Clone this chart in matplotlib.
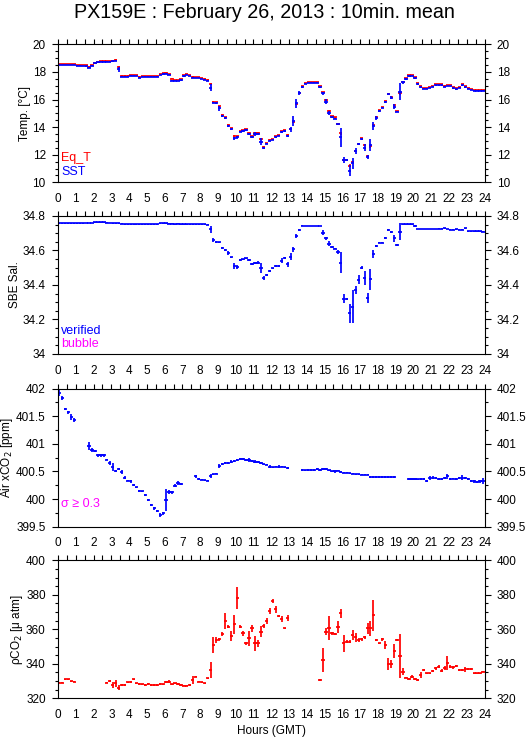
import numpy as np
import matplotlib
matplotlib.use("Agg")
import matplotlib.pyplot as plt
from matplotlib.ticker import MultipleLocator

plt.rcParams['font.family'] = ['Liberation Sans', 'DejaVu Sans']

nan = np.nan

# 10-minute slots, 144 per day (value at slot centre)
hours = (np.arange(144) + 0.5) / 6

sst = [18.50, 18.50, 18.50, 18.50, 18.50, 18.50, 18.45, 18.45, 18.43, 18.40, 18.31, 18.45,
       18.62, 18.69, 18.74, 18.74, 18.74, 18.74, 18.76, 18.81, 18.19, 17.66, 17.66, 17.66,
       17.72, 17.72, 17.70, 17.58, 17.65, 17.65, 17.65, 17.65, 17.65, 17.65, 17.77, 17.85,
       17.88, 17.78, 17.37, 17.35, 17.35, 17.42, 17.70, 17.78, 17.70, 17.58, 17.56, 17.55,
       17.50, 17.45, 17.37, 16.86, 15.77, 15.72, 15.36, 14.80, 14.64, 14.08, 13.84, 13.19,
       13.26, 13.67, 13.72, 13.79, 13.50, 13.26, 13.50, 13.50, 12.94, 12.49, 12.78, 13.02,
       13.07, 13.26, 13.36, 13.65, 13.72, 13.36, 13.84, 14.44, 15.72, 16.45, 16.90, 17.14,
       17.22, 17.22, 17.22, 17.22, 16.88, 16.45, 15.84, 15.00, 14.70, 14.62, 14.20, 13.26,
       11.62, 11.62, 10.84, 11.37, 12.27, 12.75, 13.12, 12.51, 11.86, 12.70, 14.08, 14.68,
       15.17, 15.41, 15.80, 16.37, 16.13, 15.48, 15.12, 16.57, 17.24, 17.49, 17.70, 17.70,
       17.53, 17.12, 16.88, 16.79, 16.79, 16.86, 16.93, 17.03, 17.03, 17.03, 16.93, 16.98,
       16.98, 16.81, 16.74, 16.86, 17.03, 16.88, 16.79, 16.69, 16.64, 16.64, 16.64, 16.64]
sst_err = [0.02, 0.02, 0.02, 0.02, 0.02, 0.02, 0.02, 0.02, 0.03, 0.03, 0.04, 0.05,
           0.04, 0.03, 0.02, 0.02, 0.02, 0.02, 0.03, 0.04, 0.20, 0.03, 0.02, 0.02,
           0.02, 0.02, 0.02, 0.03, 0.02, 0.02, 0.02, 0.02, 0.02, 0.02, 0.03, 0.04,
           0.05, 0.04, 0.06, 0.03, 0.02, 0.05, 0.04, 0.03, 0.03, 0.03, 0.02, 0.02,
           0.02, 0.03, 0.04, 0.25, 0.05, 0.06, 0.20, 0.06, 0.06, 0.10, 0.05, 0.12,
           0.10, 0.04, 0.05, 0.05, 0.06, 0.08, 0.12, 0.10, 0.25, 0.06, 0.04, 0.05,
           0.04, 0.04, 0.04, 0.06, 0.05, 0.07, 0.20, 0.35, 0.30, 0.15, 0.05, 0.04,
           0.02, 0.02, 0.02, 0.03, 0.05, 0.10, 0.20, 0.15, 0.05, 0.05, 0.06, 0.70,
           0.25, 0.08, 0.40, 0.40, 0.20, 0.08, 0.05, 0.25, 0.15, 0.45, 0.30, 0.15,
           0.05, 0.06, 0.08, 0.06, 0.10, 0.20, 0.05, 0.60, 0.10, 0.06, 0.04, 0.03,
           0.05, 0.05, 0.04, 0.03, 0.03, 0.03, 0.03, 0.03, 0.03, 0.03, 0.04, 0.03,
           0.03, 0.04, 0.04, 0.04, 0.04, 0.05, 0.04, 0.03, 0.02, 0.02, 0.02, 0.02]

eq_t = [18.57, 18.57, 18.57, 18.57, 18.57, 18.57, 18.51, 18.51, 18.50, 18.47, 18.38, 18.50,
        18.68, 18.75, 18.80, 18.80, 18.80, 18.80, 18.82, 18.87, 18.38, 17.73, 17.72, 17.72,
        17.78, 17.78, 17.76, 17.65, 17.71, 17.71, 17.71, 17.71, 17.71, 17.71, 17.83, 17.91,
        17.94, 17.84, 17.50, 17.41, 17.41, 17.47, 17.76, 17.84, 17.76, 17.65, 17.62, 17.61,
        17.56, 17.51, 17.44, 17.10, 15.85, 15.80, 15.50, 14.90, 14.72, 14.18, 13.90, 13.35,
        13.33, 13.72, 13.78, 13.85, 13.57, 13.33, 13.55, 13.56, 13.15, 12.58, 12.84, 13.08,
        13.13, 13.32, 13.42, 13.71, 13.78, 13.45, 13.86, 14.40, 15.68, 16.50, 16.95, 17.20,
        17.28, 17.28, 17.28, 17.28, 16.98, 16.52, 15.95, 15.20, 14.78, 14.70, 14.25, 13.55,
        11.65, 11.65, 11.20, 11.45, 12.30, 12.80, 13.18, 12.70, 11.90, 12.60, 14.12, 14.72,
        15.22, 15.45, 15.86, 16.42, 16.20, 15.60, 15.15, 16.45, 17.28, 17.55, 17.76, 17.76,
        17.60, 17.20, 16.95, 16.85, 16.85, 16.92, 16.99, 17.09, 17.10, 17.09, 17.00, 17.04,
        17.04, 16.88, 16.80, 16.92, 17.10, 16.95, 16.85, 16.75, 16.70, 16.70, 16.70, 16.70]
eq_t_err = [0.02, 0.02, 0.02, 0.02, 0.02, 0.02, 0.02, 0.02, 0.02, 0.02, 0.03, 0.03,
            0.03, 0.02, 0.02, 0.02, 0.02, 0.02, 0.02, 0.03, 0.08, 0.02, 0.02, 0.02,
            0.02, 0.02, 0.02, 0.02, 0.02, 0.02, 0.02, 0.02, 0.02, 0.02, 0.02, 0.03,
            0.03, 0.03, 0.04, 0.02, 0.02, 0.03, 0.03, 0.02, 0.02, 0.02, 0.02, 0.02,
            0.02, 0.02, 0.03, 0.08, 0.04, 0.04, 0.06, 0.04, 0.04, 0.05, 0.04, 0.05,
            0.04, 0.03, 0.03, 0.03, 0.04, 0.04, 0.05, 0.05, 0.08, 0.04, 0.03, 0.03,
            0.03, 0.03, 0.03, 0.04, 0.03, 0.04, 0.06, 0.08, 0.08, 0.05, 0.03, 0.03,
            0.02, 0.02, 0.02, 0.02, 0.03, 0.05, 0.06, 0.05, 0.03, 0.03, 0.04, 0.10,
            0.06, 0.04, 0.10, 0.08, 0.06, 0.04, 0.04, 0.10, 0.05, 0.08, 0.06, 0.05,
            0.03, 0.03, 0.04, 0.03, 0.04, 0.08, 0.03, 0.10, 0.04, 0.03, 0.02, 0.02,
            0.03, 0.03, 0.02, 0.02, 0.02, 0.02, 0.02, 0.02, 0.02, 0.02, 0.02, 0.02,
            0.02, 0.02, 0.02, 0.02, 0.02, 0.03, 0.02, 0.02, 0.02, 0.02, 0.02, 0.02]

sal = [34.757, 34.757, 34.757, 34.757, 34.757, 34.757, 34.757, 34.758, 34.757, 34.760, 34.760, 34.760,
       34.763, 34.763, 34.763, 34.765, 34.762, 34.760, 34.758, 34.758, 34.758, 34.755, 34.752, 34.752,
       34.752, 34.752, 34.752, 34.752, 34.752, 34.752, 34.752, 34.752, 34.752, 34.752, 34.757, 34.757,
       34.757, 34.755, 34.755, 34.752, 34.755, 34.752, 34.752, 34.752, 34.752, 34.752, 34.752, 34.752,
       34.752, 34.752, 34.750, 34.723, 34.660, 34.650, 34.647, 34.616, 34.603, 34.587, 34.560, 34.510,
       34.506, 34.545, 34.549, 34.555, 34.545, 34.520, 34.530, 34.529, 34.500, 34.440, 34.456, 34.480,
       34.497, 34.510, 34.510, 34.540, 34.555, 34.520, 34.564, 34.607, 34.684, 34.720, 34.744, 34.742,
       34.742, 34.742, 34.742, 34.742, 34.742, 34.703, 34.670, 34.640, 34.618, 34.610, 34.590, 34.530,
       34.320, 34.320, 34.236, 34.274, 34.371, 34.430, 34.500, 34.440, 34.323, 34.433, 34.580, 34.626,
       34.645, 34.645, 34.675, 34.720, 34.705, 34.670, 34.632, 34.710, 34.752, 34.752, 34.752, 34.752,
       34.742, 34.725, 34.725, 34.725, 34.725, 34.725, 34.725, 34.725, 34.727, 34.727, 34.728, 34.725,
       34.720, 34.720, 34.722, 34.720, 34.720, 34.728, 34.712, 34.712, 34.712, 34.712, 34.712, 34.710]
sal_err = [0.002, 0.002, 0.002, 0.002, 0.002, 0.002, 0.002, 0.003, 0.002, 0.002, 0.002, 0.002,
           0.003, 0.002, 0.002, 0.003, 0.002, 0.002, 0.002, 0.002, 0.002, 0.003, 0.002, 0.002,
           0.002, 0.002, 0.002, 0.002, 0.002, 0.002, 0.002, 0.002, 0.002, 0.002, 0.003, 0.002,
           0.002, 0.003, 0.002, 0.002, 0.003, 0.002, 0.002, 0.002, 0.002, 0.002, 0.002, 0.002,
           0.002, 0.002, 0.003, 0.020, 0.012, 0.006, 0.004, 0.005, 0.004, 0.012, 0.005, 0.016,
           0.012, 0.004, 0.004, 0.004, 0.008, 0.006, 0.006, 0.010, 0.030, 0.012, 0.006, 0.005,
           0.004, 0.004, 0.004, 0.015, 0.005, 0.015, 0.020, 0.015, 0.012, 0.006, 0.004, 0.002,
           0.002, 0.002, 0.002, 0.002, 0.002, 0.015, 0.008, 0.015, 0.006, 0.004, 0.010, 0.060,
           0.025, 0.005, 0.055, 0.095, 0.025, 0.025, 0.010, 0.040, 0.030, 0.062, 0.025, 0.006,
           0.004, 0.004, 0.006, 0.006, 0.006, 0.020, 0.004, 0.048, 0.002, 0.002, 0.002, 0.002,
           0.006, 0.002, 0.002, 0.002, 0.002, 0.002, 0.002, 0.002, 0.003, 0.002, 0.003, 0.002,
           0.002, 0.002, 0.003, 0.002, 0.002, 0.003, 0.002, 0.002, 0.002, 0.002, 0.002, 0.003]

air = [401.92, 401.83, 401.63, 401.57, 401.49, 401.43, nan, nan, nan, nan, 400.96, 400.89,
       400.87, 400.79, 400.79, 400.79, 400.71, 400.65, 400.58, 400.51, 400.54, 400.49, 400.39, 400.33,
       400.32, 400.26, 400.21, 400.15, 400.14, 400.07, 399.98, 399.90, 399.83, 399.78, 399.71, 399.74,
       399.98, 400.13, 400.12, 400.24, 400.29, 400.27, nan, nan, nan, nan, 400.41, 400.37,
       400.35, 400.34, 400.33, 400.42, 400.45, 400.46, 400.60, 400.63, 400.65, 400.66, 400.68, 400.69,
       400.71, 400.72, 400.73, 400.71, 400.71, 400.69, 400.68, 400.67, 400.65, 400.63, 400.62, 400.59,
       400.58, 400.59, 400.59, 400.59, 400.58, 400.57, nan, nan, nan, nan, 400.52, 400.52,
       400.53, 400.53, 400.53, 400.54, 400.53, 400.54, 400.54, 400.52, 400.50, 400.50, 400.51, 400.49,
       400.48, 400.48, 400.47, 400.46, 400.45, 400.45, 400.44, 400.44, 400.44, 400.40, 400.40, 400.40,
       400.40, 400.40, 400.40, 400.40, 400.40, 400.40, nan, nan, nan, nan, 400.36, 400.37,
       400.37, 400.36, 400.36, 400.36, 400.33, 400.38, 400.39, 400.38, 400.37, 400.37, 400.38, 400.41,
       400.37, 400.37, 400.37, 400.38, 400.39, 400.38, 400.36, 400.33, 400.32, 400.31, 400.32, 400.33]
air_err = [0.05, 0.04, 0.02, 0.02, 0.05, 0.03, 0.00, 0.00, 0.00, 0.00, 0.07, 0.04,
           0.02, 0.02, 0.02, 0.02, 0.01, 0.04, 0.07, 0.02, 0.02, 0.03, 0.02, 0.01,
           0.02, 0.02, 0.01, 0.02, 0.01, 0.02, 0.02, 0.02, 0.02, 0.02, 0.03, 0.03,
           0.20, 0.03, 0.02, 0.03, 0.03, 0.02, 0.00, 0.00, 0.00, 0.00, 0.02, 0.02,
           0.01, 0.01, 0.01, 0.04, 0.01, 0.01, 0.04, 0.02, 0.02, 0.02, 0.02, 0.02,
           0.02, 0.02, 0.02, 0.02, 0.03, 0.02, 0.02, 0.02, 0.02, 0.01, 0.01, 0.02,
           0.01, 0.01, 0.02, 0.01, 0.01, 0.02, 0.00, 0.00, 0.00, 0.00, 0.02, 0.01,
           0.02, 0.02, 0.02, 0.02, 0.02, 0.02, 0.02, 0.01, 0.01, 0.02, 0.01, 0.01,
           0.01, 0.01, 0.01, 0.01, 0.01, 0.01, 0.01, 0.01, 0.01, 0.02, 0.02, 0.02,
           0.02, 0.02, 0.02, 0.02, 0.02, 0.02, 0.00, 0.00, 0.00, 0.00, 0.02, 0.02,
           0.02, 0.01, 0.02, 0.02, 0.02, 0.04, 0.03, 0.02, 0.02, 0.02, 0.02, 0.05,
           0.02, 0.01, 0.02, 0.02, 0.04, 0.02, 0.02, 0.02, 0.02, 0.02, 0.02, 0.05]

pco2 = [329.0, 329.0, 331.0, 331.0, 329.9, 329.5, nan, nan, nan, nan, nan, nan,
        nan, nan, nan, nan, 329.1, 330.0, 327.7, 328.7, 326.2, 327.7, 327.7, 329.3,
        329.7, 331.0, 328.7, 328.2, 328.0, 327.8, 328.3, 327.7, 327.7, 327.7, 328.3, 328.0,
        329.3, 329.7, 328.0, 328.7, 328.3, 327.7, 327.2, 327.4, 327.7, 330.6, 332.6, 329.7,
        329.3, 328.7, 331.6, 336.4, 350.9, 353.8, 354.1, 357.2, 364.7, 361.5, 356.1, 363.0,
        378.0, 361.5, 357.6, 351.8, 354.7, 360.5, 351.8, 351.8, 358.6, 361.8, 364.7, 370.5,
        376.3, 371.5, 367.6, 365.9, 360.5, 366.7, nan, nan, nan, nan, nan, nan,
        nan, nan, nan, nan, 330.6, 342.2, 358.6, 360.5, 357.6, 357.2, 361.1, 369.2,
        351.8, 352.8, 352.8, 356.6, 355.3, 353.8, 354.1, 355.3, 360.5, 360.5, 368.2, 353.8,
        351.8, 354.1, 350.9, 339.9, 339.9, 347.4, 353.8, 344.5, 335.5, 332.0, 331.2, 332.6,
        331.2, 330.6, 333.5, 336.4, 334.5, 334.5, 335.8, 337.4, 338.3, 336.0, 337.4, 340.3,
        338.3, 338.0, 338.7, 336.4, 336.4, 336.8, 336.8, 337.0, 334.5, 334.5, 334.5, 335.5]
pco2_err = [0.3, 0.3, 0.4, 0.3, 0.4, 0.3, 0.0, 0.0, 0.0, 0.0, 0.0, 0.0,
            0.0, 0.0, 0.0, 0.0, 0.3, 0.5, 1.5, 2.0, 1.5, 0.4, 0.5, 0.4,
            0.6, 0.4, 0.4, 0.4, 0.3, 0.4, 0.6, 0.3, 0.3, 0.4, 0.8, 0.4,
            0.5, 0.8, 0.4, 0.4, 0.4, 0.8, 0.3, 0.3, 0.4, 2.2, 0.5, 0.4,
            0.3, 0.3, 0.3, 4.5, 4.5, 1.7, 1.0, 1.0, 4.5, 1.0, 2.7, 5.5,
            6.5, 1.0, 1.5, 0.8, 4.5, 1.8, 4.5, 2.0, 3.2, 1.0, 1.7, 1.7,
            1.2, 1.8, 0.5, 1.8, 0.5, 1.7, 0.0, 0.0, 0.0, 0.0, 0.0, 0.0,
            0.0, 0.0, 0.0, 0.0, 0.4, 7.0, 2.2, 7.0, 1.0, 0.6, 3.5, 2.4,
            4.8, 0.8, 0.8, 3.0, 2.8, 1.0, 0.8, 0.8, 3.0, 4.5, 9.0, 0.5,
            0.5, 0.8, 2.2, 3.7, 2.2, 3.8, 0.8, 12.8, 2.0, 0.5, 0.5, 0.8,
            0.5, 0.5, 1.5, 0.8, 0.4, 0.4, 0.4, 0.8, 0.8, 0.8, 1.2, 4.0,
            1.0, 0.8, 0.5, 0.4, 0.4, 1.5, 0.6, 0.6, 0.3, 0.3, 0.3, 0.5]

hour_ticks = list(range(0, 25))

BLUE = '#0000ff'
RED = '#ff0000'
MAGENTA = '#ff00ff'
HALF = 5.5 / 60.0   # half width of the 10 min bar, hours


def draw_series(ax, vals, errs, color):
    v = np.array(vals, dtype=float)
    e = np.array(errs, dtype=float)
    ok = ~np.isnan(v)
    ax.hlines(v[ok], hours[ok] - HALF, hours[ok] + HALF, colors=color, lw=1.25)
    ax.vlines(hours[ok], v[ok] - e[ok], v[ok] + e[ok], colors=color, lw=1.25)


def setup_axes(ax, ylo, yhi, major, minor, ylabel):
    ax.set_xlim(0, 24)
    ax.set_ylim(ylo, yhi)
    ax.set_xticks(hour_ticks)
    ax.xaxis.set_minor_locator(MultipleLocator(0.5))
    ax.yaxis.set_major_locator(MultipleLocator(major))
    ax.yaxis.set_minor_locator(MultipleLocator(minor))
    ax.yaxis.set_major_formatter(plt.FuncFormatter(lambda v, pos: '%g' % v))
    ax.tick_params(axis='x', which='both', direction='out', bottom=False, top=True,
                   labelbottom=True, labeltop=False, length=3.6, width=0.8,
                   pad=4, labelsize=8.5)
    ax.tick_params(axis='y', which='major', direction='out', left=True, right=True,
                   labelleft=True, labelright=True, length=4.3, width=0.8,
                   pad=4.5, labelsize=8.5)
    ax.tick_params(axis='y', which='minor', direction='out', left=True, right=True,
                   length=2.2, width=0.8)
    for s in ax.spines.values():
        s.set_linewidth(0.8)
    ax.set_ylabel(ylabel, fontsize=8.5, labelpad=1)


fig = plt.figure(figsize=(5.29, 7.39), dpi=100)
L, W, H = 58 / 529, 426.5 / 529, 138 / 739

ax1 = fig.add_axes([L, 0.7533, W, H])
draw_series(ax1, eq_t, eq_t_err, RED)
draw_series(ax1, sst, sst_err, BLUE)
setup_axes(ax1, 10, 20, 2, 0.5, 'Temp. [°C]')
ax1.text(0.008, 0.176, 'Eq_T', color=RED, fontsize=9, transform=ax1.transAxes,
         ha='left', va='center')
ax1.text(0.008, 0.075, 'SST', color=BLUE, fontsize=9, transform=ax1.transAxes,
         ha='left', va='center')

ax2 = fig.add_axes([L, 0.521, W, H])
draw_series(ax2, sal, sal_err, BLUE)
setup_axes(ax2, 34, 34.8, 0.2, 0.05, 'SBE Sal.')
ax2.text(0.008, 0.163, 'verified', color=BLUE, fontsize=9, transform=ax2.transAxes,
         ha='left', va='center')
ax2.text(0.008, 0.069, 'bubble', color=MAGENTA, fontsize=9, transform=ax2.transAxes,
         ha='left', va='center')

ax3 = fig.add_axes([L, 0.2873, W, H])
draw_series(ax3, air, air_err, BLUE)
setup_axes(ax3, 399.5, 402, 0.5, 0.25, 'Air xCO$_2$ [ppm]')
ax3.text(0.008, 0.164, 'σ ≥ 0.3', color=MAGENTA, fontsize=9, transform=ax3.transAxes,
         ha='left', va='center')

ax4 = fig.add_axes([L, 0.0551, W, H])
draw_series(ax4, pco2, pco2_err, RED)
setup_axes(ax4, 320, 400, 20, 5, 'ρCO$_2$ [μ atm]')
ax4.set_xlabel('Hours (GMT)', fontsize=8.5, labelpad=3)

fig.text(0.5, 1 - 13 / 739, 'PX159E : February 26, 2013 : 10min. mean',
         ha='center', va='center', fontsize=14.2)

fig.savefig('out.png', dpi=100)
